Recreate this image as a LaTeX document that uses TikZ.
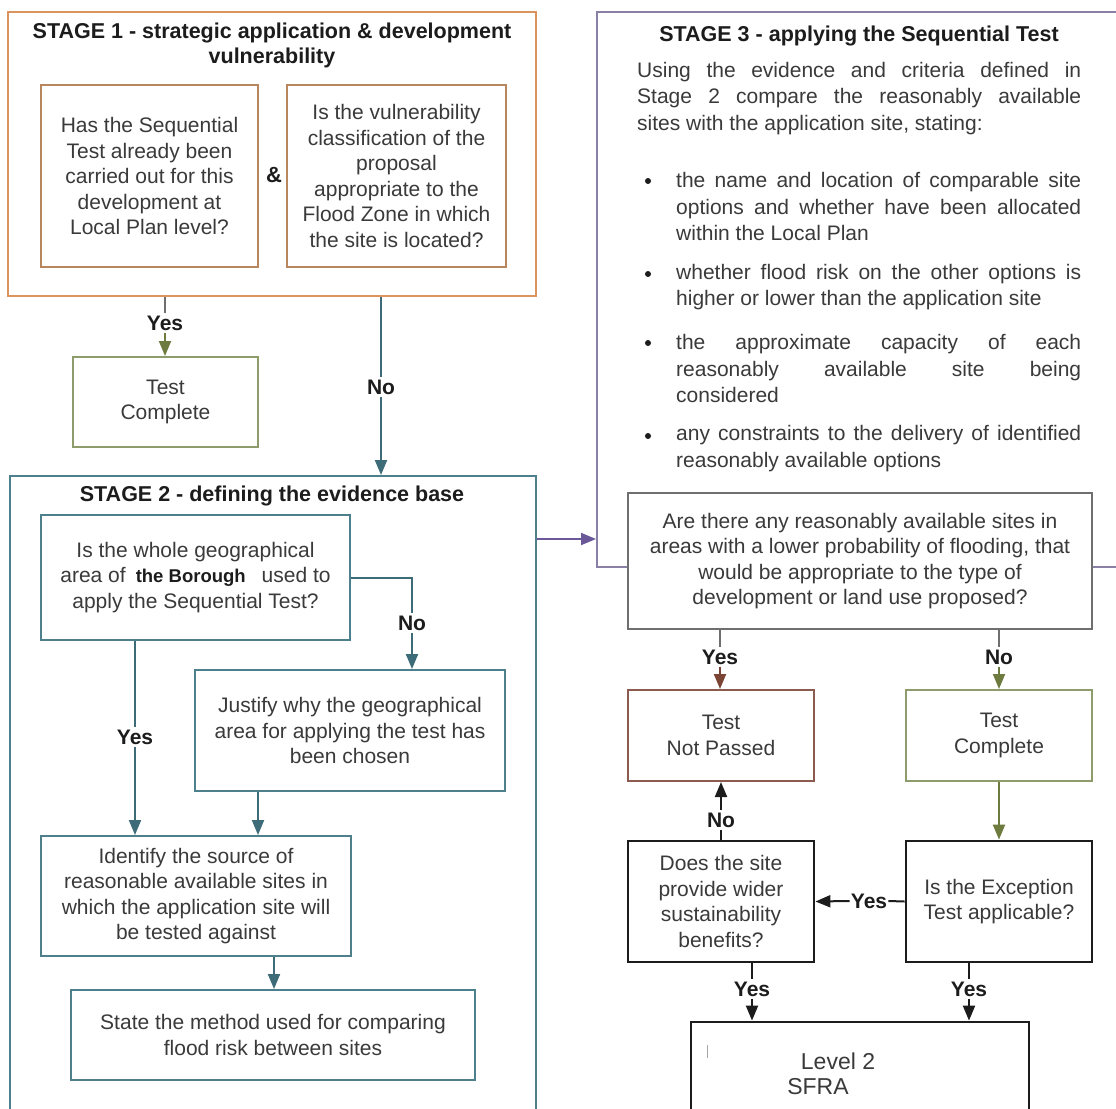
\documentclass[tikz,border=0pt]{standalone}
\usepackage{fontspec}
\setmainfont{Liberation Sans}
\usetikzlibrary{arrows.meta,positioning}
\definecolor{sorange}{HTML}{DC935C}
\definecolor{sbrown}{HTML}{B8875E}
\definecolor{steal}{HTML}{4E7F8C}
\definecolor{tealarr}{HTML}{3D6B78}
\definecolor{spurple}{HTML}{8A80A6}
\definecolor{purplearr}{HTML}{6A5898}
\definecolor{solive}{HTML}{8E9B6A}
\definecolor{olivearr}{HTML}{6E7B3F}
\definecolor{sred}{HTML}{8B5B50}
\definecolor{redarr}{HTML}{7A4535}
\definecolor{sgrey}{HTML}{6F6F6F}
\definecolor{stext}{HTML}{3A3A3A}
\definecolor{sblack}{HTML}{1C1C1C}
\newcommand{\bodyfont}{\fontsize{21}{25.5}\selectfont}
\newcommand{\parafont}{\fontsize{21}{26.5}\selectfont}
\newcommand{\titlefont}{\fontsize{21.5}{25.5}\selectfont\bfseries}
\newcommand{\lblfont}{\fontsize{21}{25}\selectfont\bfseries}

\begin{document}
\begin{tikzpicture}[x=1pt, y=-1pt,
    stagebox/.style={rectangle, draw, line width=2pt, fill=white, inner sep=0pt},
    qbox/.style={rectangle, draw, line width=2pt, fill=white, align=center, text=stext, font=\bodyfont, inner sep=0pt},
    endbox/.style={qbox, draw=sblack, line width=2.8pt},
    stagetitle/.style={font=\titlefont, text=sblack, align=center, inner sep=0pt},
    lbl/.style={font=\lblfont, text=sblack, inner sep=2pt},
    para/.style={anchor=west, text width=#1, align=justify, font=\parafont, text=stext, inner sep=0pt},
    dot/.style={circle, fill=sblack, inner sep=0pt, minimum size=6pt},
    link/.style={line width=2pt},
    arr/.style={-{Triangle[length=15pt,width=12pt]}, line width=2pt}
]
    \useasboundingbox (0,0) rectangle (1116,1108);

    % stage 1
    \node[stagebox, draw=sorange, minimum width=528pt, minimum height=284pt] (s1) at (272,154) {};
    \node[stagetitle] (t1) at (272,45.5) {STAGE 1 - strategic application \& development\\vulnerability};
    \node[qbox, draw=sbrown, minimum width=217pt, minimum height=182pt] (ba) at (149.5,176) {Has the Sequential\\Test already been\\carried out for this\\development at\\Local Plan level?};
    \node[qbox, draw=sbrown, minimum width=219pt, minimum height=182pt] (bb) at (396.5,176) {Is the vulnerability\\classification of the\\proposal\\appropriate to the\\Flood Zone in which\\the site is located?};
    \node[lbl, font=\fontsize{22}{25}\selectfont\bfseries] (amp) at (274,175) {\&};
    \node[qbox, draw=solive, minimum width=185pt, minimum height=90pt] (tc1) at (165.5,402) {Test\\Complete};

    % stage 2
    \node[stagebox, draw=steal, minimum width=526pt, minimum height=660pt] (s2) at (273,806) {};
    \node[stagetitle] (t2) at (272,496) {STAGE 2 - defining the evidence base};
    \node[qbox, draw=steal, minimum width=309pt, minimum height=125pt] (bc) at (195.5,577.5) {Is the whole geographical\\area of\hspace{10pt}{\fontsize{18.5}{25}\selectfont\bfseries\color{sblack}the Borough}\hspace{16pt}used to\\apply the Sequential Test?};
    \node[qbox, draw=steal, minimum width=310pt, minimum height=121pt] (bd) at (350,730.5) {Justify why the geographical\\area for applying the test has\\been chosen};
    \node[qbox, draw=steal, minimum width=310pt, minimum height=120pt] (be) at (196,896) {Identify the source of\\reasonable available sites in\\which the application site will\\be tested against};
    \node[qbox, draw=steal, minimum width=404pt, minimum height=90pt] (bf) at (273,1035) {State the method used for comparing\\flood risk between sites};

    % stage 3
    \node[stagebox, draw=spurple, minimum width=553pt, minimum height=555pt] (s3) at (873.5,289.5) {};
    \node[stagetitle] (t3) at (859,36) {STAGE 3 - applying the Sequential Test};
    \node[para=444pt] (intro) at (637,98.5) {Using the evidence and criteria defined in\linebreak Stage 2 compare the reasonably available\linebreak sites with the application site, stating:};
    \node[dot] (d1) at (648,181) {};
    \node[para=405pt] (p1) at (676,206.5) {the name and location of comparable site\linebreak options and whether have been allocated\linebreak within the Local Plan};
    \node[dot] (d2) at (648,274) {};
    \node[para=405pt] (p2) at (676,287) {whether flood risk on the other options is\linebreak higher or lower than the application site};
    \node[dot] (d3) at (648,343) {};
    \node[para=405pt] (p3) at (676,368.5) {the approximate capacity of each\linebreak reasonably available site being\linebreak considered};
    \node[dot] (d4) at (648,436) {};
    \node[para=405pt] (p4) at (676,448.5) {any constraints to the delivery of identified\linebreak reasonably available options};
    \node[qbox, draw=sgrey, minimum width=464pt, minimum height=136pt] (bg) at (860,561) {Are there any reasonably available sites in\\areas with a lower probability of flooding, that\\would be appropriate to the type of\\development or land use proposed?};
    \node[qbox, draw=sred, minimum width=186pt, minimum height=91pt] (tnp) at (721,735.5) {Test\\Not Passed};
    \node[qbox, draw=solive, minimum width=186pt, minimum height=91pt] (tc2) at (999,735.5) {Test\\Complete};
    \node[endbox, minimum width=186pt, minimum height=121pt] (sus) at (721,901.5) {Does the site\\provide wider\\sustainability\\benefits?};
    \node[endbox, minimum width=186pt, minimum height=121pt] (exc) at (999,901.5) {Is the Exception\\Test applicable?};
    \node[endbox, minimum width=338pt, minimum height=140pt] (lvl) at (860,1092) {};
    \node[font=\fontsize{23}{27}\selectfont, text=stext, inner sep=0pt] (lv1) at (838,1061) {Level 2};
    \node[font=\fontsize{23}{27}\selectfont, text=stext, inner sep=0pt] (lv2) at (818,1087) {SFRA};
    \draw[gray!70, line width=0.8pt] (707,1045) -- (707,1058);

    % labels
    \node[lbl] (yes1) at (165,323) {Yes};
    \node[lbl] (no1) at (381,387) {No};
    \node[lbl] (yes2) at (135,737) {Yes};
    \node[lbl] (no2) at (412,623) {No};
    \node[lbl] (yes3) at (720,657) {Yes};
    \node[lbl] (no3) at (999,657) {No};
    \node[lbl] (no4) at (721,820) {No};
    \node[lbl, inner sep=1pt] (yes4) at (869,901) {Yes};
    \node[lbl] (yes5) at (752,989) {Yes};
    \node[lbl] (yes6) at (969,989) {Yes};
    \coordinate (s3link) at (560,539);

    % connectors
    \draw[link, sgrey] (s1.south -| yes1) -- (yes1.north);
    \draw[arr, olivearr] (yes1.south) -- (tc1.north -| yes1);
    \draw[link, tealarr] (s1.south -| no1) -- (no1.north);
    \draw[arr, tealarr] (no1.south) -- (s2.north -| no1);
    \draw[link, tealarr] (bc.south -| yes2) -- (yes2.north);
    \draw[arr, tealarr] (yes2.south) -- (be.north -| yes2);
    \draw[link, tealarr] (bc.east) -| (no2.north);
    \draw[arr, tealarr] (no2.south) -- (bd.north -| no2);
    \draw[arr, tealarr] ([xshift=-92pt]bd.south) -- ([xshift=-92pt]bd.south |- be.north);
    \draw[arr, tealarr] ([xshift=78pt]be.south) -- ([xshift=78pt]be.south |- bf.north);
    \draw[arr, purplearr] (s2.east |- s3link) -- (s3.west |- s3link);
    \draw[link, sgrey] (bg.south -| yes3) -- (yes3.north);
    \draw[arr, redarr] (yes3.south) -- (tnp.north -| yes3);
    \draw[link, sgrey] (bg.south -| no3) -- (no3.north);
    \draw[arr, olivearr] (no3.south) -- (tc2.north -| no3);
    \draw[arr, olivearr] (tc2) -- (exc);
    \draw[link, sblack] (sus.north) -- (no4.south);
    \draw[arr, sblack] (no4.north) -- (tnp.south);
    \draw[link, sblack] (exc.west) -- (yes4.east);
    \draw[arr, sblack] (yes4.west) -- (sus.east);
    \draw[link, sblack] (sus.south -| yes5) -- (yes5.north);
    \draw[arr, sblack] (yes5.south) -- (lvl.north -| yes5);
    \draw[link, sblack] (exc.south -| yes6) -- (yes6.north);
    \draw[arr, sblack] (yes6.south) -- (lvl.north -| yes6);
\end{tikzpicture}
\end{document}
